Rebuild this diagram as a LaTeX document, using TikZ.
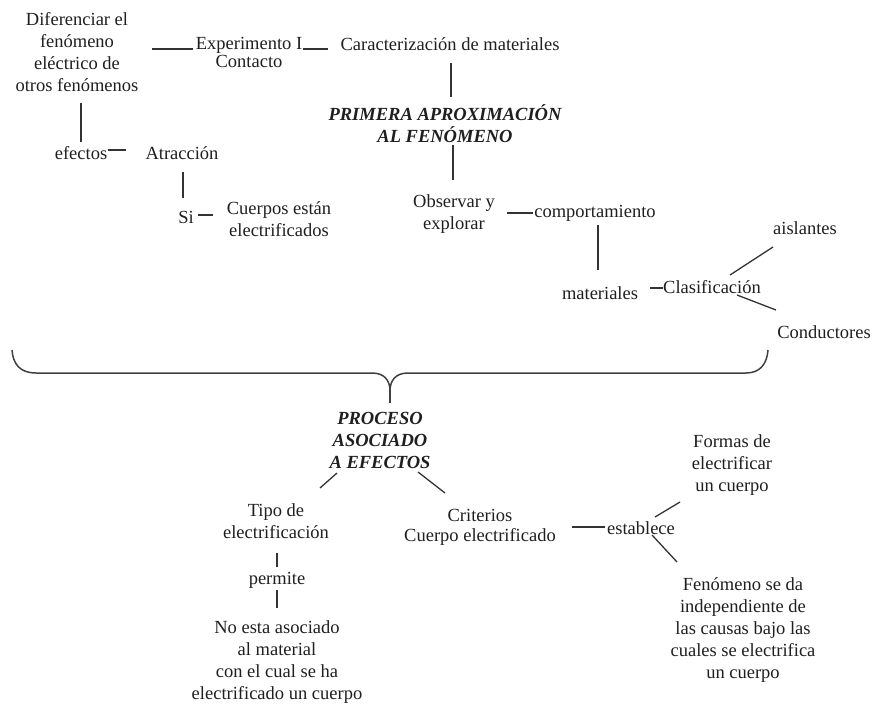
\documentclass[tikz,border=0pt]{standalone}
\usepackage{fontspec}
\setmainfont{Liberation Serif}
\usetikzlibrary{calc}
\begin{document}
\begin{tikzpicture}[x=1pt,y=-1pt,
  concept/.style={inner sep=0pt, align=center, text=black!88,
    font=\fontsize{18.5}{22}\selectfont},
  tight/.style={font=\fontsize{18.5}{18}\selectfont},
  title/.style={font=\fontsize{18.5}{22}\selectfont\bfseries\itshape},
  link/.style={draw=black!80, line width=1.3pt},
  brace/.style={draw=black!75, line width=1.5pt}]
\useasboundingbox (0,0) rectangle (875,704);

% upper half: first approach to the phenomenon
\node[concept] (dif) at (77,52) {Diferenciar el\\fenómeno\\eléctrico de\\otros fenómenos};
\node[concept,tight] (exp) at (249,52) {Experimento I\\Contacto};
\node[concept] (car) at (450,44) {Caracterización de materiales};
\node[concept,title] (pri) at (445,124) {PRIMERA APROXIMACIÓN\\AL FENÓMENO};
\node[concept] (obs) at (454,214) {Observar y\\explorar};
\node[concept] (comp) at (595,213) {comportamiento};
\node[concept] (mat) at (600,293) {materiales};
\node[concept] (clas) at (712,287) {Clasificación};
\node[concept] (ais) at (805,228) {aislantes};
\node[concept] (cond) at (824,332) {Conductores};
\node[concept] (efe) at (81,153) {efectos};
\node[concept] (atr) at (182,153) {Atracción};
\node[concept] (si) at (186,217) {Si};
\node[concept] (cue) at (279,219) {Cuerpos están\\electrificados};

\draw[link] ($(dif)+(75,-3)$) -- ($(exp)+(-56,-3)$);
\draw[link] ($(exp)+(54,-3)$) -- ($(car)+(-122,5)$);
\draw[link] ($(car)+(1,19)$) -- ($(pri)+(6,-27)$);
\draw[link] ($(pri)+(8,21)$) -- ($(obs)+(-1,-34)$);
\draw[link] ($(obs)+(53,-1)$) -- ($(comp)+(-62,0)$);
\draw[link] ($(comp)+(3,12)$) -- ($(mat)+(-2,-23)$);
\draw[link] ($(mat)+(50,-5)$) -- ($(clas)+(-49,1)$);
\draw[link] ($(clas)+(18,-12)$) -- ($(ais)+(-32,19)$);
\draw[link] ($(clas)+(25,8)$) -- ($(cond)+(-48,-22)$);
\draw[link] ($(dif)+(4,51)$) -- ($(efe)+(0,-11)$);
\draw[link] ($(efe)+(27,-3)$) -- ($(atr)+(-56,-3)$);
\draw[link] ($(atr)+(1,19)$) -- ($(si)+(-3,-19)$);
\draw[link] ($(si)+(12,-2)$) -- ($(cue)+(-66,-4)$);

% brace gathering the upper half
\coordinate (bl) at (12,350);
\coordinate (br) at (768,350);
\coordinate (bt) at (390,403);
\draw[brace] (bl) .. controls (13,364) and (20,373) .. (36,373)
  -- (372,373) .. controls (384,373) and (390,380) .. (390,391)
  .. controls (390,380) and (396,373) .. (408,373)
  -- (746,373) .. controls (760,373) and (767,364) .. (br);
\draw[brace] (390,391) -- (bt);

% lower half: process associated with the effects
\node[concept,title] (proc) at (380,440) {PROCESO\\ASOCIADO\\A EFECTOS};
\node[concept] (tipo) at (276,521) {Tipo de\\electrificación};
\node[concept] (perm) at (277,580) {permite};
\node[concept] (noesta) at (277,662) {No esta asociado\\al material\\con el cual se ha\\electrificado un cuerpo};
\node[concept,font=\fontsize{18.5}{20}\selectfont] (crit) at (480,527) {Criterios\\Cuerpo electrificado};
\node[concept] (est) at (641,528) {establece};
\node[concept] (formas) at (732,465) {Formas de\\electrificar\\un cuerpo};
\node[concept] (fen) at (743,630) {Fenómeno se da\\independiente de\\las causas bajo las\\cuales se electrifica\\un cuerpo};

\draw[link] ($(proc)+(-43,33)$) -- ($(tipo)+(44,-33)$);
\draw[link] ($(proc)+(38,32)$) -- ($(crit)+(-35,-34)$);
\draw[link] ($(tipo)+(1,32)$) -- ($(perm)+(0,-13)$);
\draw[link] ($(perm)+(0,10)$) -- ($(noesta)+(0,-54)$);
\draw[link] ($(crit)+(92,0)$) -- ($(est)+(-36,-1)$);
\draw[link] ($(est)+(14,-11)$) -- ($(formas)+(-52,37)$);
\draw[link] ($(est)+(11,7)$) -- ($(fen)+(-66,-68)$);
\end{tikzpicture}
\end{document}
